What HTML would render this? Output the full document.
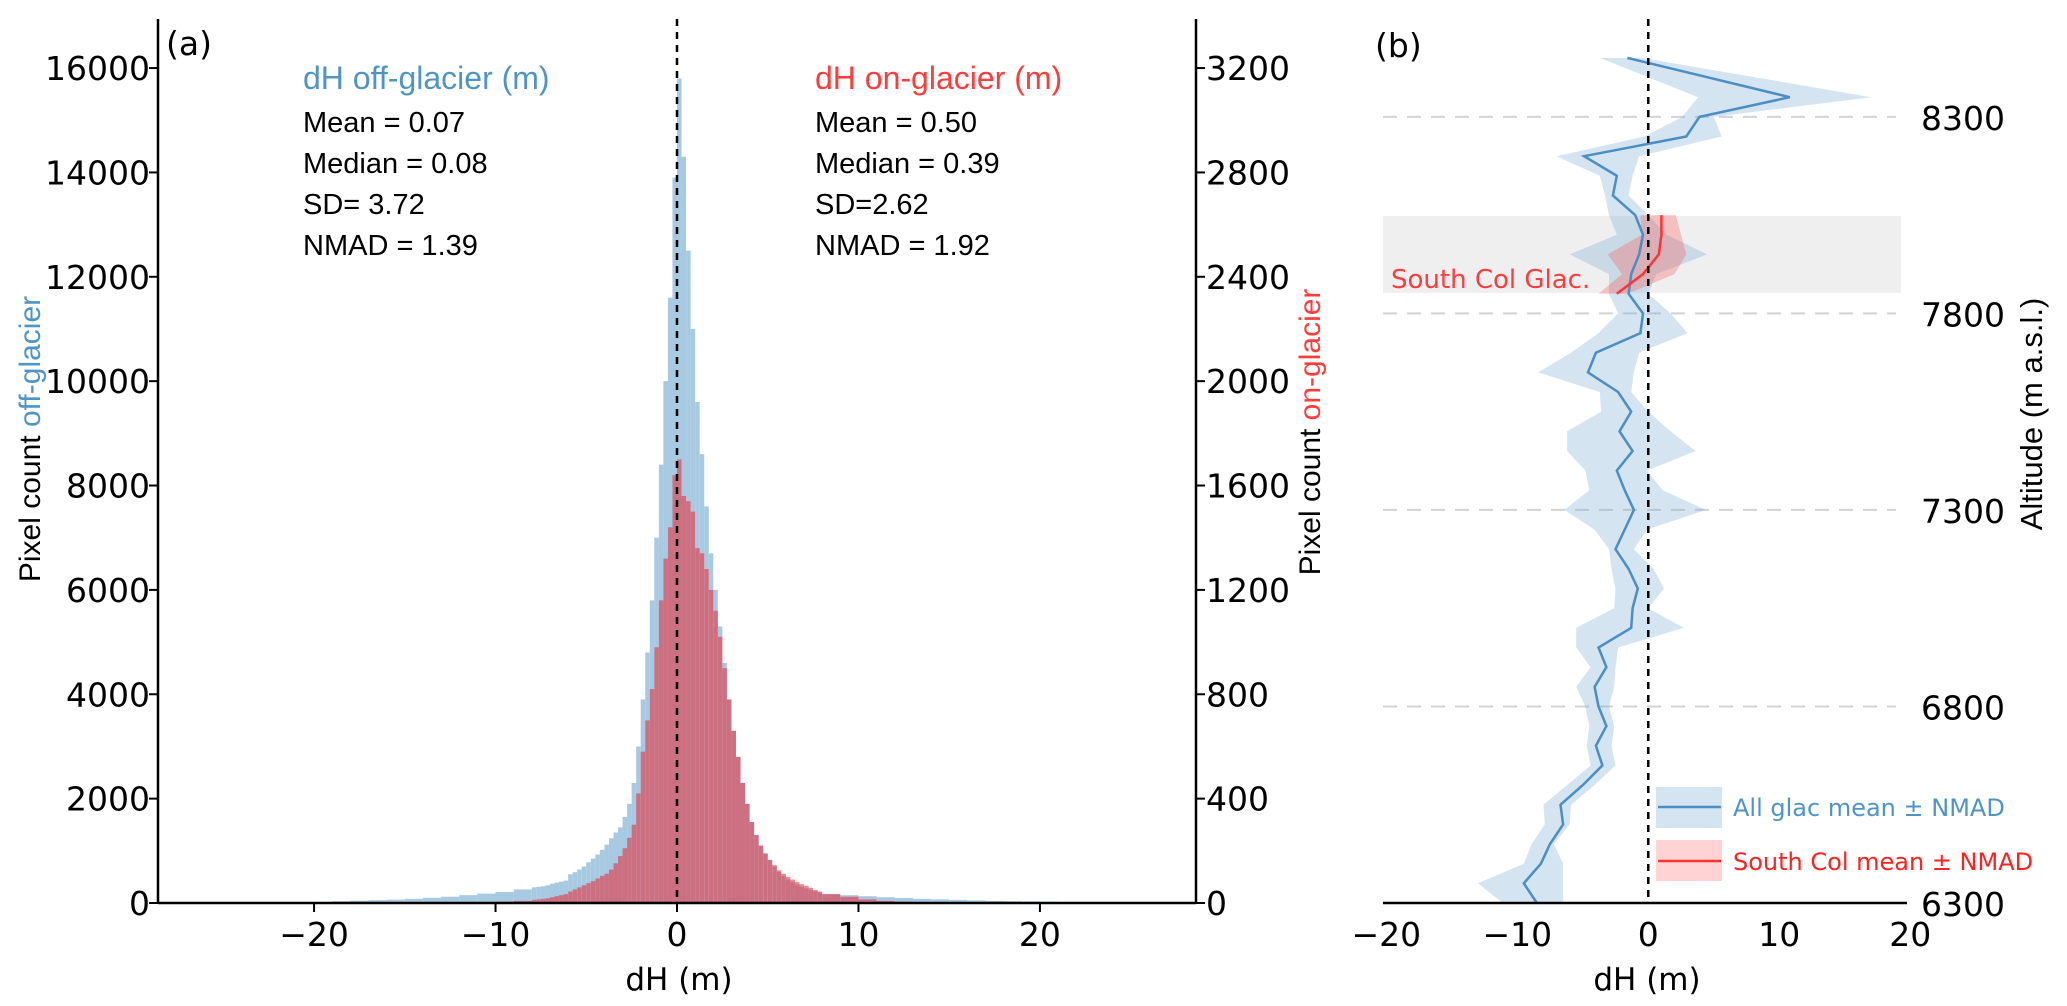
<!DOCTYPE html>
<html><head><meta charset="utf-8"><style>
html,body{margin:0;padding:0;background:#fff;}
svg{display:block;font-family:"Liberation Sans",Arial,sans-serif;}
.tk{font-family:"DejaVu Sans","Liberation Sans",sans-serif;}
</style></head><body>
<svg id="fig" width="2067" height="1006" viewBox="0 0 2067 1006" xmlns="http://www.w3.org/2000/svg">
<g id="pa"></g>
<g id="pb"></g>
</svg>
<script>
// ---------- Panel (a) data ----------
const coreStart = -8, coreWidth = 0.25;
const offCore = [300,310,320,340, 370,390,410,430, 550,590,640,700, 780,850,930,1020,
  1120,1240,1350,1450, 1650,1900,2300,3000, 3900,4800,5800,7000, 8400,10000,11600,13900,
  15800,14300,12500,11000, 9600,8600,7600,6700, 6000,5300,4600,3900, 3300,2800,2300,1900,
  1550,1300,1100,950, 820,700,600,520, 450,400,350,310, 280,250,225,200];
const onCore = [12,14,16,18, 22,26,30,34, 44,52,60,68, 76,84,94,104,
  112,128,152,180, 210,250,300,420, 580,700,820,980, 1160,1320,1440,1640,
  1700,1560,1540,1500, 1360,1340,1280,1200, 1120,1020,900,780, 660,560,460,380,
  310,260,220,190, 165,145,125,112, 100,90,80,72, 66,58,50,44];
const tailLeftStart = -27;
const offTailLeft = [0,2,4,6,10,14,18,22,35,45,55,65,80,100,120,150,180,210,260];
const onTailLeft  = [0,0,0,0,0,0,0,0,0,0,0,0,0,0,0,1,3,5,8];
const tailRightStart = 8;
const offTailRight = [170,150,130,110,95,80,70,60,50,40,35,30,25,20,14,10,6,4,2];
const onTailRight  = [34,24,14,8,5,3,2,1,0,0,0,0,0,0,0,0,0,0,0];
const aXTicks = [-20,-10,0,10,20];
const aLeftTicks = [0,2000,4000,6000,8000,10000,12000,14000,16000];
const aRightTicks = [0,400,800,1200,1600,2000,2400,2800,3200];

// ---------- Panel (b) data ----------
const altitudes = [8450,8350,8300,8250,8200,8150,8100,8050,8000,7950,7900,7850,7800,7750,7700,7650,7600,7550,7500,7450,7400,7350,7300,7250,7200,7150,7100,7050,7000,6950,6900,6850,6800,6750,6700,6650,6600,6550,6500,6450,6400,6350,6300];
const allMean = [-1.6,10.8,3.9,2.9,-4.9,-2.4,-2.7,-1.0,-0.4,-0.7,-1.3,-1.5,-0.4,-0.6,-4.0,-4.6,-2.3,-1.3,-2.2,-1.2,-2.4,-1.8,-1.1,-1.8,-2.5,-1.5,-0.8,-1.2,-1.3,-3.8,-3.2,-4.1,-3.8,-3.2,-4.0,-3.5,-5.0,-6.7,-6.5,-7.5,-8.2,-9.5,-8.5];
const allLo = [-3.7,3.8,2.6,-0.3,-7.0,-3.7,-3.3,-3.0,-2.4,-6.0,-3.0,-3.0,-2.3,-3.8,-5.9,-8.4,-3.7,-3.6,-6.2,-6.2,-4.8,-4.5,-6.4,-4.1,-3.0,-2.8,-2.5,-2.6,-5.5,-5.5,-4.4,-5.5,-4.8,-4.5,-4.7,-4.4,-6.2,-8.0,-7.9,-8.9,-9.5,-13.0,-11.1];
const allHi = [-0.5,17.0,5.0,5.6,-0.7,-1.2,-1.5,0.0,1.4,4.5,0.6,0.0,1.7,3.0,-0.7,-1.1,-1.3,0.0,1.7,3.6,-0.1,1.1,4.4,-0.1,-1.1,0.4,1.2,0.0,2.7,-2.3,-2.5,-2.6,-3.0,-2.6,-2.8,-2.5,-4.1,-5.9,-6.0,-7.2,-6.5,-6.5,-6.5];
const scAlt = [8050,8000,7950,7900,7850];
const scMean = [1.0,1.0,0.8,-0.4,-2.4];
const scLo = [-0.6,-0.5,-3.1,-2.0,-3.8];
const scHi = [2.1,2.5,2.9,2.0,-1.6];
const bXTicks = [-20,-10,0,10,20];
const bYTicks = [6300,6800,7300,7800,8300];
const gridAlts = [6800,7300,7800,8300];
const bandAlt = [7852,8048];

const NS = "http://www.w3.org/2000/svg";
function mk(parent, tag, attrs, text){
  const e = document.createElementNS(NS, tag);
  for (const k in attrs) e.setAttribute(k, attrs[k]);
  if (text !== undefined) e.textContent = text;
  parent.appendChild(e); return e;
}

// ---------- Panel (a) ----------
const A = {x0:158, x1:1196, y0:903, yTop:19, xmin:-28.6, xmax:28.6, lmax:16940, rmax:3388};
const ax = v => A.x0 + (v - A.xmin)/(A.xmax - A.xmin)*(A.x1 - A.x0);
const ayL = v => A.y0 - v/A.lmax*(A.y0 - A.yTop);
const ayR = v => A.y0 - v/A.rmax*(A.y0 - A.yTop);
const pa = document.getElementById('pa');

function drawBars(g, start, width, vals, yfn, fill, name){
  vals.forEach((v,i)=>{
    if (v<=0) return;
    const xl = ax(start + i*width), xr = ax(start + (i+1)*width);
    const r = mk(g,'rect',{x:xl, y:yfn(v), width:Math.max(xr-xl,0.5), height:A.y0-yfn(v), fill:fill});
    
    
  });
}
const gOff = mk(pa,'g',{});


drawBars(gOff, tailLeftStart, 1, offTailLeft, ayL, '#a7c9e2', 'off-glacier-bar');
drawBars(gOff, coreStart, coreWidth, offCore, ayL, '#a7c9e2', 'off-glacier-bar');
drawBars(gOff, tailRightStart, 1, offTailRight, ayL, '#a7c9e2', 'off-glacier-bar');
const gOn = mk(pa,'g',{opacity:'0.58'});


drawBars(gOn, tailLeftStart, 1, onTailLeft, ayR, '#e8303c', 'on-glacier-bar');
drawBars(gOn, coreStart, coreWidth, onCore, ayR, '#e8303c', 'on-glacier-bar');
drawBars(gOn, tailRightStart, 1, onTailRight, ayR, '#e8303c', 'on-glacier-bar');

const zl = mk(pa,'line',{x1:ax(0),x2:ax(0),y1:A.yTop,y2:A.y0,stroke:'#000','stroke-width':2.5,'stroke-dasharray':'7,6'});


mk(pa,'line',{x1:A.x0,x2:A.x0,y1:A.yTop,y2:A.y0+1,stroke:'#000','stroke-width':2.5});
mk(pa,'line',{x1:A.x1,x2:A.x1,y1:A.yTop,y2:A.y0+1,stroke:'#000','stroke-width':2.5});
mk(pa,'line',{x1:A.x0,x2:A.x1,y1:A.y0,y2:A.y0,stroke:'#000','stroke-width':2.5});
aXTicks.forEach(t=>{
  mk(pa,'line',{x1:ax(t),x2:ax(t),y1:A.y0,y2:A.y0+9,stroke:'#000','stroke-width':2});
  const tx = mk(pa,'text',{x:ax(t),y:946,'font-size':33,'text-anchor':'middle','class':'tk'}, t<0?'\u2212'+(-t):String(t));
  
  
});
aLeftTicks.forEach(t=>{
  mk(pa,'line',{x1:A.x0-9,x2:A.x0,y1:ayL(t),y2:ayL(t),stroke:'#000','stroke-width':2});
  const tx = mk(pa,'text',{x:A.x0-8,y:ayL(t)+12,'font-size':33,'text-anchor':'end','class':'tk'}, String(t));
  
  
});
aRightTicks.forEach(t=>{
  mk(pa,'line',{x1:A.x1,x2:A.x1+9,y1:ayR(t),y2:ayR(t),stroke:'#000','stroke-width':2});
  const tx = mk(pa,'text',{x:A.x1+10,y:ayR(t)+12,'font-size':33,'text-anchor':'start','class':'tk'}, String(t));
  
  
});
</script>
<script>
(function(){
const pa = document.getElementById('pa');
pa.insertAdjacentHTML('beforeend', `
<text x="166" y="55" font-size="33" class="tk">(a)</text>
<text x="303" y="89" font-size="32" fill="#4f94c8">dH off-glacier (m)</text>
<text x="303" y="132" font-size="29">Mean = 0.07</text>
<text x="303" y="173" font-size="29">Median = 0.08</text>
<text x="303" y="214" font-size="29">SD= 3.72</text>
<text x="303" y="255" font-size="29">NMAD = 1.39</text>
<text x="815" y="89" font-size="32" fill="#ff3b3b">dH on-glacier (m)</text>
<text x="815" y="132" font-size="29">Mean = 0.50</text>
<text x="815" y="173" font-size="29">Median = 0.39</text>
<text x="815" y="214" font-size="29">SD=2.62</text>
<text x="815" y="255" font-size="29">NMAD = 1.92</text>
<text x="679" y="990" font-size="31" text-anchor="middle" class="tk">dH (m)</text>
<text transform="translate(40,439) rotate(-90)" font-size="30" text-anchor="middle">Pixel count <tspan fill="#4f94c8">off-glacier</tspan></text>
<text transform="translate(1320,432) rotate(-90)" font-size="30" text-anchor="middle">Pixel count <tspan fill="#ff3b3b">on-glacier</tspan></text>
`);
})();
</script>
<script>
(function(){
const B = {x0:1383, x1:1907, y0:903, yTop:19, xmin:-20.25, xmax:19.75, amin:6300, amax:8549};
const bx = v => B.x0 + (v - B.xmin)/(B.xmax - B.xmin)*(B.x1 - B.x0);
const by = a => B.y0 - (a - B.amin)/(B.amax - B.amin)*(B.y0 - B.yTop);
const pb = document.getElementById('pb');

gridAlts.forEach(a=>{
  const l = mk(pb,'line',{x1:B.x0,x2:1896,y1:by(a),y2:by(a),stroke:'#d3d3d3','stroke-width':2,'stroke-dasharray':'14,10'});
  
  
});
const band = mk(pb,'rect',{x:B.x0,y:by(bandAlt[1]),width:1901-B.x0,height:by(bandAlt[0])-by(bandAlt[1]),fill:'#efefef'});



function area(lo,hi,alts,fill,name){
  let d = '';
  alts.forEach((a,i)=>{ d += (i?'L':'M') + bx(hi[i]).toFixed(1)+','+by(a).toFixed(1); });
  for (let i=alts.length-1;i>=0;i--) d += 'L' + bx(lo[i]).toFixed(1)+','+by(alts[i]).toFixed(1);
  const p = mk(pb,'path',{d:d+'Z',fill:fill});
  
  
}
function line(vals,alts,stroke,name){
  const pts = alts.map((a,i)=>bx(vals[i]).toFixed(1)+','+by(a).toFixed(1)).join(' ');
  const p = mk(pb,'polyline',{points:pts,fill:'none',stroke:stroke,'stroke-width':2.5});
  
  
}
area(allLo, allHi, altitudes, 'rgba(120,170,212,0.32)', 'all-glac-nmad-band');
area(scLo, scHi, scAlt, 'rgba(255,80,80,0.3)', 'south-col-nmad-band');
line(allMean, altitudes, '#4a8ec4', 'all-glac-mean-line');
line(scMean, scAlt, '#ff3333', 'south-col-mean-line');

const zl = mk(pb,'line',{x1:bx(0),x2:bx(0),y1:B.yTop,y2:B.y0,stroke:'#000','stroke-width':2.5,'stroke-dasharray':'7,6'});


mk(pb,'line',{x1:B.x0,x2:B.x1,y1:B.y0,y2:B.y0,stroke:'#000','stroke-width':2.5});
bXTicks.forEach(t=>{
  const tx = mk(pb,'text',{x:bx(t),y:946,'font-size':33,'text-anchor':'middle','class':'tk'}, t<0?'\u2212'+(-t):String(t));
  
  
});
bYTicks.forEach(t=>{
  const tx = mk(pb,'text',{x:1921,y:by(t)+13,'font-size':33,'text-anchor':'start','class':'tk'}, String(t));
  
  
});
pb.insertAdjacentHTML('beforeend', `
<text x="1375" y="57" font-size="33" class="tk">(b)</text>
<text x="1391" y="288" font-size="26" fill="#ff3b3b" class="tk">South Col Glac.</text>
<text x="1647" y="990" font-size="31" text-anchor="middle" class="tk">dH (m)</text>
<text transform="translate(2042,414) rotate(-90)" font-size="31" text-anchor="middle">Altitude (m a.s.l.)</text>
<g>
<rect x="1656" y="787" width="66" height="41" fill="rgba(120,170,212,0.32)"/>
<line x1="1658" x2="1721" y1="807" y2="807" stroke="#4a8ec4" stroke-width="2.5"/>
<text x="1733" y="816" font-size="24" fill="#4f94c8" class="tk">All glac mean ± NMAD</text>
<rect x="1656" y="840" width="66" height="41" fill="rgba(255,80,80,0.25)"/>
<line x1="1658" x2="1721" y1="861" y2="861" stroke="#ff3333" stroke-width="2.5"/>
<text x="1733" y="870" font-size="24" fill="#ff2020" class="tk">South Col mean ± NMAD</text>
</g>`);
})();
</script>
</body></html>
